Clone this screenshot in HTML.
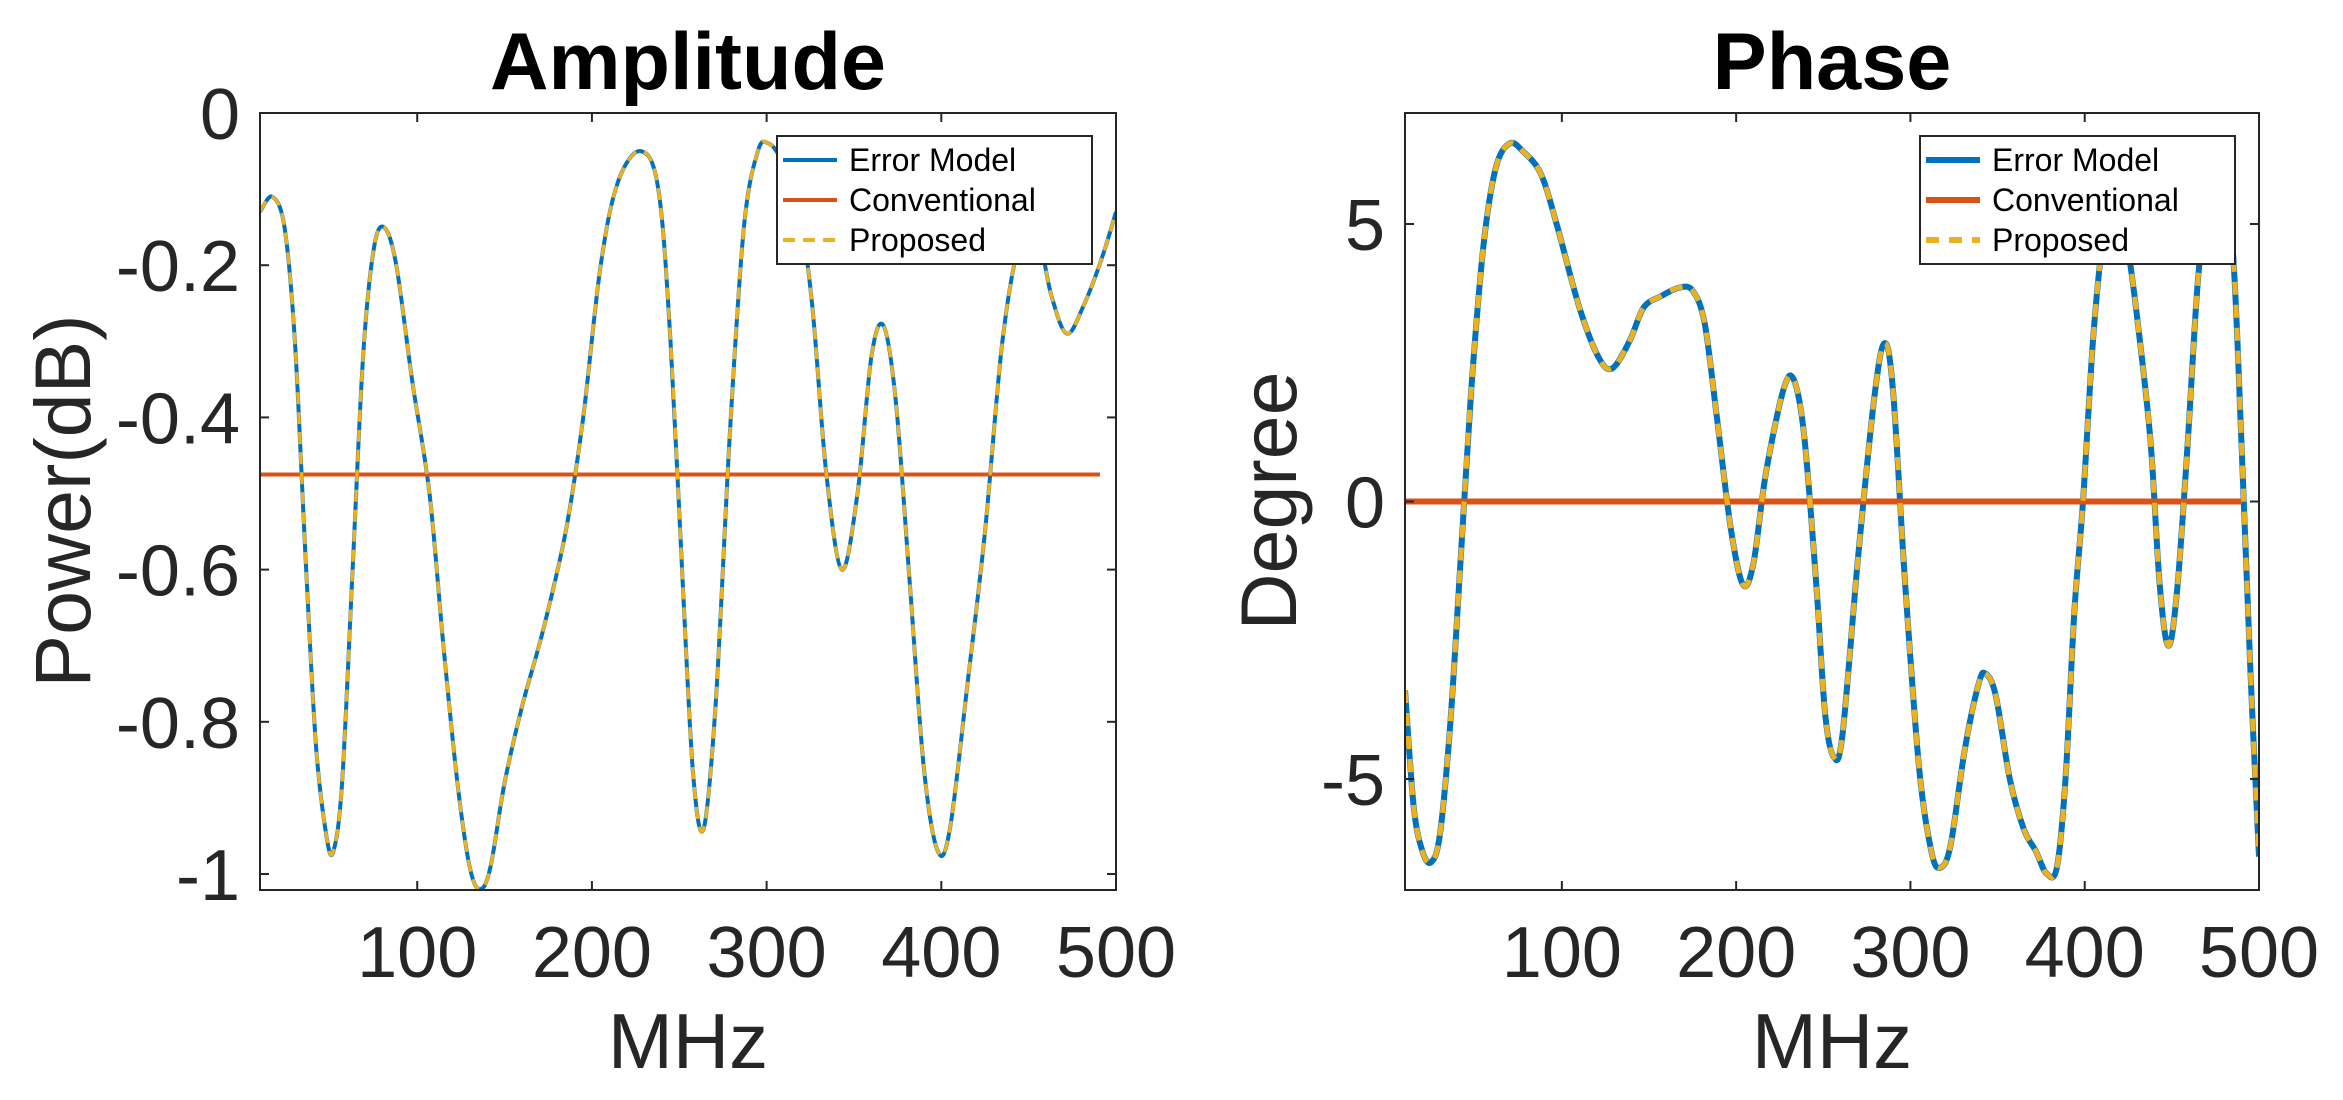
<!DOCTYPE html>
<html><head><meta charset="utf-8">
<style>
html,body{margin:0;padding:0;background:#fff;}
svg{display:block;}
text{font-family:"Liberation Sans",Arial,sans-serif;fill:#262626;}
</style></head>
<body>
<svg id="s" width="2343" height="1100" viewBox="0 0 2343 1100" xmlns="http://www.w3.org/2000/svg">
<rect width="2343" height="1100" fill="#fff"/>
<text x="688" y="89" font-size="81" font-weight="bold" text-anchor="middle" style="fill:#000">Amplitude</text>
<text x="1832" y="89" font-size="81" font-weight="bold" text-anchor="middle" style="fill:#000">Phase</text>
<text x="688" y="1068" font-size="78" text-anchor="middle">MHz</text>
<text x="1832" y="1068" font-size="78" text-anchor="middle">MHz</text>
<text transform="translate(90,501) rotate(-90)" font-size="79" text-anchor="middle">Power(dB)</text>
<text transform="translate(1296,501) rotate(-90)" font-size="79" text-anchor="middle">Degree</text>
<g id="g1"></g>
<g id="g2"></g>
</svg>
<script>
var NS="http://www.w3.org/2000/svg";
function el(p,t,a,txt){var e=document.createElementNS(NS,t);for(var k in a)e.setAttribute(k,a[k]);if(txt!==undefined)e.textContent=txt;p.appendChild(e);return e;}
function pathFrom(pts){
  var d="M"+pts[0][0].toFixed(1)+","+pts[0][1].toFixed(1);
  for(var i=0;i<pts.length-1;i++){
    var p0=pts[i-1]||pts[i],p1=pts[i],p2=pts[i+1],p3=pts[i+2]||p2;
    var c1=[p1[0]+(p2[0]-p0[0])/6,p1[1]+(p2[1]-p0[1])/6];
    var c2=[p2[0]-(p3[0]-p1[0])/6,p2[1]-(p3[1]-p1[1])/6];
    d+=" C"+c1[0].toFixed(1)+","+c1[1].toFixed(1)+" "+c2[0].toFixed(1)+","+c2[1].toFixed(1)+" "+p2[0].toFixed(1)+","+p2[1].toFixed(1);
  }
  return d;
}
function plot(g,cfg){
  var L=cfg.L,R=cfg.R,T=113,B=890;
  function X(v){return L+(v-10)/(490)*(R-L);}
  function Y(v){return T+(cfg.ymax-v)/(cfg.ymax-cfg.ymin)*(B-T);}
  var clipId="c"+cfg.id;
  var defs=el(g,"defs",{});var cp=el(defs,"clipPath",{id:clipId});el(cp,"rect",{x:L,y:T,width:R-L,height:B-T});
  var pts=cfg.data.map(function(p){return [X(p[0]),Y(p[1])];});
  var d=pathFrom(pts);
  var cg=el(g,"g",{"clip-path":"url(#"+clipId+")"});
  el(cg,"path",{d:d,fill:"none",stroke:"#0072BD","stroke-width":cfg.lw,"stroke-linejoin":"round"});
  el(cg,"line",{x1:L,x2:cfg.oEnd,y1:Y(cfg.oy),y2:Y(cfg.oy),stroke:"#D95319","stroke-width":cfg.lw});
  el(cg,"path",{d:d,fill:"none",stroke:"#EDB120","stroke-width":cfg.lw*0.85,"stroke-dasharray":cfg.dash});
  el(g,"rect",{x:L,y:T,width:R-L,height:B-T,fill:"none",stroke:"#262626","stroke-width":2});
  [100,200,300,400,500].forEach(function(v){var x=X(v);
    el(g,"line",{x1:x,x2:x,y1:B,y2:B-9,stroke:"#262626","stroke-width":2});
    el(g,"line",{x1:x,x2:x,y1:T,y2:T+9,stroke:"#262626","stroke-width":2});
    el(g,"text",{x:x,y:977,"font-size":72,"text-anchor":"middle"},String(v));
  });
  cfg.yt.forEach(function(t){var y=Y(t[0]);
    el(g,"line",{x1:L,x2:L+9,y1:y,y2:y,stroke:"#262626","stroke-width":2});
    el(g,"line",{x1:R,x2:R-9,y1:y,y2:y,stroke:"#262626","stroke-width":2});
    el(g,"text",{x:L-20,y:y+26,"font-size":72,"text-anchor":"end"},t[1]);
  });
  var lx=cfg.legL,ly=136;
  el(g,"rect",{x:lx,y:ly,width:315,height:128,fill:"#fff",stroke:"#262626","stroke-width":2});
  var rows=[["Error Model","#0072BD",null],["Conventional","#D95319",null],["Proposed","#EDB120",cfg.dash]];
  rows.forEach(function(r,i){var cy=ly+24+i*40;
    var a={x1:lx+6,x2:lx+60,y1:cy,y2:cy,stroke:r[1],"stroke-width":cfg.lw};
    if(r[2])a["stroke-dasharray"]=r[2];
    el(g,"line",a);
    el(g,"text",{x:lx+72,y:cy+11,"font-size":32,style:"fill:#000"},r[0]);
  });
}
var amp=[[10,-0.13],[17,-0.11],[24,-0.15],[30,-0.3],[36,-0.58],[42,-0.83],[48,-0.95],[52,-0.97],[57,-0.88],[63,-0.6],[69,-0.32],[75,-0.18],[81,-0.15],[88,-0.2],[97,-0.35],[107,-0.5],[115,-0.7],[123,-0.88],[130,-0.99],[136,-1.02],[142,-0.99],[150,-0.88],[160,-0.78],[172,-0.68],[185,-0.55],[195,-0.4],[205,-0.2],[215,-0.09],[228,-0.05],[238,-0.1],[245,-0.3],[252,-0.62],[258,-0.87],[264,-0.94],[271,-0.77],[279,-0.42],[287,-0.15],[295,-0.05],[301,-0.04],[308,-0.06],[318,-0.12],[326,-0.25],[334,-0.47],[343,-0.6],[352,-0.5],[360,-0.32],[367,-0.28],[374,-0.38],[382,-0.62],[390,-0.86],[398,-0.97],[405,-0.94],[415,-0.75],[425,-0.55],[435,-0.3],[445,-0.17],[455,-0.16],[463,-0.24],[472,-0.29],[482,-0.25],[492,-0.19],[500,-0.13]];
var ph=[[10,-3.4],[15,-5.5],[20,-6.3],[25,-6.5],[30,-6.0],[36,-4],[42,-1],[48,2],[55,4.6],[62,6.0],[70,6.45],[78,6.3],[88,5.9],[97,5],[110,3.5],[121,2.6],[129,2.4],[139,2.9],[147,3.5],[157,3.7],[167,3.85],[175,3.8],[182,3.2],[189,1.5],[197,-0.5],[204,-1.5],[210,-1.1],[217,0.5],[227,2.0],[233,2.2],[239,1.2],[246,-1.5],[251,-3.8],[256,-4.6],[261,-4.2],[270,-1],[279,1.8],[285,2.85],[290,2.0],[297,-1.5],[305,-4.8],[312,-6.3],[317,-6.6],[323,-6.2],[331,-4.5],[339,-3.3],[343,-3.1],[349,-3.5],[357,-5],[365,-5.9],[372,-6.3],[378,-6.7],[384,-6.6],[389,-5],[394,-2],[399,0],[405,3],[411,4.8],[418,5.3],[425,4.5],[432,2.8],[438,1.0],[443,-1.5],[448,-2.6],[453,-1.6],[459,1.0],[465,4],[471,5.5],[479,5.6],[485,4.5],[490,1],[495,-3],[500,-6.4]];
plot(document.getElementById("g1"),{id:1,L:260,R:1116,ymin:-1.021,ymax:0,data:amp,lw:4,dash:"12 8",oy:-0.475,oEnd:1100,legL:777,
  yt:[[0,"0"],[-0.2,"-0.2"],[-0.4,"-0.4"],[-0.6,"-0.6"],[-0.8,"-0.8"],[-1,"-1"]]});
plot(document.getElementById("g2"),{id:2,L:1405,R:2259,ymin:-7,ymax:7,data:ph,lw:6,dash:"13 10",oy:0,oEnd:2242,legL:1920,
  yt:[[5,"5"],[0,"0"],[-5,"-5"]]});
</script>
</body></html>
